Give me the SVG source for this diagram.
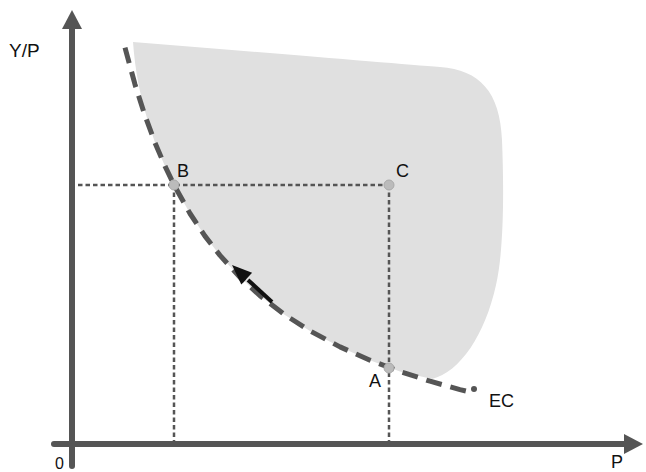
<svg xmlns="http://www.w3.org/2000/svg" width="646" height="472" viewBox="0 0 646 472">
<style>
.ax{stroke:#555;stroke-width:6;stroke-linecap:round;fill:none}
.ah{fill:#555}
.dot{stroke:#555;stroke-width:2.5;stroke-dasharray:4.5 3;fill:none}
.pt{fill:#bbb;stroke:#aaa;stroke-width:1}
.lbl{font-family:"Liberation Sans",Arial,sans-serif;font-size:18px;fill:#111}
</style>
<g id="region">
<path d="M133,42 C260,52 400,64 440,67 C480,70 500,92 502,140 C504,190 504,250 496,285 C485,335 460,372 432,379 L400,371.5 L370,360.2 L340,346.9 L310,330.9 L285,314.9 L260,295.7 L240,277.3 L220,255.4 L205,236.1 L190,213.5 L175,186.8 L165,166.2 L155,142.7 L147,118 C140,95 135,70 133,42 Z" fill="#e0e0e0"/>
</g>
<g id="axes">
<line class="ax" x1="72" y1="466" x2="72" y2="26"/>
<polygon class="ah" points="72,10 62,29 82,29"/>
<line class="ax" x1="54" y1="444" x2="625" y2="444"/>
<polygon class="ah" points="643,444 624,434 624,454"/>
</g>
<g id="connectors">
<line class="dot" x1="78" y1="185" x2="389" y2="185"/>
<line class="dot" x1="174" y1="185" x2="174" y2="441"/>
<line class="dot" x1="389" y1="185" x2="389" y2="441"/>
<path d="M125,47.6 L135,84.4 L145,115.7 L155,142.7 L165,166.2 L175,186.8 L190,213.5 L205,236.1 L220,255.4 L240,277.3 L260,295.7 L285,314.9 L310,330.9 L340,346.9 L370,360.2 L400,371.5 L430,381.2 L460,389.6 L468,391.5" fill="none" stroke="#555" stroke-width="5" stroke-dasharray="16 9" stroke-linejoin="round"/>
<circle cx="474" cy="389" r="3" fill="#555"/>
<line x1="272" y1="302" x2="248" y2="280" stroke="#111" stroke-width="4"/>
<polygon points="232,265 252.1,272.7 241.3,284.5" fill="#111"/>
</g>
<g id="B"><circle class="pt" cx="174" cy="185" r="5"/><text class="lbl" x="177" y="177">B</text></g>
<g id="C"><circle class="pt" cx="389" cy="185" r="5"/><text class="lbl" x="396" y="177">C</text></g>
<g id="A"><circle class="pt" cx="389" cy="368" r="5"/><text class="lbl" x="369" y="387">A</text></g>
<text class="lbl" x="489" y="407">EC</text>
<text class="lbl" x="9" y="57" style="font-size:19px">Y/P</text>
<text class="lbl" x="55" y="469" style="font-size:16px">0</text>
<text class="lbl" x="611" y="468">P</text>
</svg>
